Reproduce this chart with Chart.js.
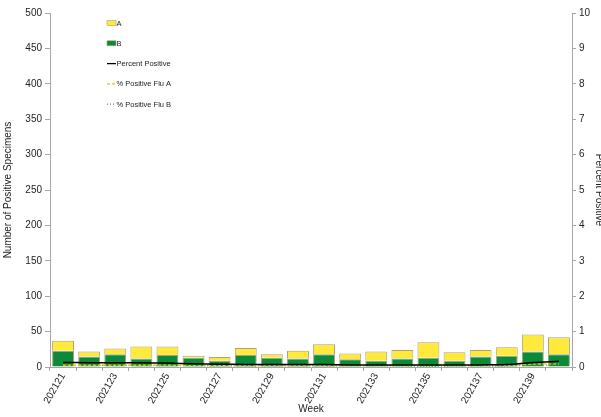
<!DOCTYPE html>
<html lang="en">
<head>
    <meta charset="UTF-8">
    <title>Flu Positive Specimens by Week</title>
    <script src="https://cdn.jsdelivr.net/npm/chart.js@4.4.0/dist/chart.umd.min.js"></script>
    <style>
        * { margin: 0; padding: 0; box-sizing: border-box; }
        body { background: #fff; width: 601px; height: 417px; overflow: hidden; }
        #wrap { position: relative; width: 601px; height: 417px; }
    </style>
</head>
<body>
    <div id="wrap">
        <canvas id="fluChart" width="601" height="417"></canvas>
    </div>

    <script>
        // data
        const weeks = ['202121','202122','202123','202124','202125','202126','202127','202128','202129','202130',
                       '202131','202132','202133','202134','202135','202136','202137','202138','202139','202140'];
        const fluA = [14, 7, 8, 17, 12, 3, 5, 10, 5, 11, 14, 8, 13, 12, 22, 12, 9, 12, 24, 24];
        const fluB = [23, 15, 18, 12, 17, 13, 9, 17, 13, 12, 18, 11, 9, 12, 13, 9, 15, 16, 22, 18];
        const pctPositive = [0.13, 0.12, 0.12, 0.12, 0.11, 0.09, 0.08, 0.07, 0.07, 0.07, 0.07, 0.06, 0.06, 0.06, 0.06, 0.06, 0.06, 0.07, 0.13, 0.16];
        const pctFluA = [0.05, 0.05, 0.05, 0.05, 0.05, 0.04, 0.04, 0.04, 0.04, 0.04, 0.04, 0.04, 0.04, 0.04, 0.05, 0.04, 0.04, 0.04, 0.08, 0.09];
        const pctFluB = [0.06, 0.05, 0.05, 0.04, 0.04, 0.04, 0.03, 0.03, 0.03, 0.03, 0.03, 0.03, 0.03, 0.03, 0.02, 0.03, 0.03, 0.03, 0.05, 0.06];

        const YELLOW = '#FFE93B';
        const GREEN = '#0B8A3A';
        const EDGE = '#A9A27C';
        const AXIS = '#A6A6A6';

        Chart.defaults.font.family = '"Liberation Sans", Arial, sans-serif';
        Chart.defaults.font.size = 10;
        Chart.defaults.color = '#222';

        // legend drawn inside the plot, like the original
        const legendItems = [
            { label: 'A', kind: 'box', color: YELLOW },
            { label: 'B', kind: 'box', color: GREEN },
            { label: 'Percent Positive', kind: 'line', color: '#000', dash: [] },
            { label: '% Positive Flu A', kind: 'line', color: '#E8C400', dash: [3, 2] },
            { label: '% Positive Flu B', kind: 'line', color: '#3FAE3F', dash: [1, 2] }
        ];
        const innerLegend = {
            id: 'innerLegend',
            afterDraw(chart) {
                const ctx = chart.ctx;
                ctx.save();
                ctx.font = '7.5px "Liberation Sans", Arial, sans-serif';
                ctx.textBaseline = 'middle';
                legendItems.forEach((it, i) => {
                    const y = 23 + i * 20.3;
                    if (it.kind === 'box') {
                        ctx.fillStyle = it.color;
                        ctx.fillRect(107, y - 2.5, 9, 5);
                        ctx.strokeStyle = EDGE;
                        ctx.lineWidth = 0.6;
                        ctx.strokeRect(107, y - 2.5, 9, 5);
                    } else {
                        ctx.strokeStyle = it.color;
                        ctx.lineWidth = 1.3;
                        ctx.setLineDash(it.dash);
                        ctx.beginPath();
                        ctx.moveTo(107, y);
                        ctx.lineTo(116, y);
                        ctx.stroke();
                        ctx.setLineDash([]);
                    }
                    ctx.fillStyle = '#222';
                    ctx.fillText(it.label, 116.5, y + 0.5);
                });
                ctx.restore();
            }
        };

        const ctx = document.getElementById('fluChart').getContext('2d');
        new Chart(ctx, {
            data: {
                labels: weeks,
                datasets: [
                    { type: 'line', label: 'Percent Positive', data: pctPositive, yAxisID: 'y1',
                      borderColor: '#000', borderWidth: 1.5, pointRadius: 0, tension: 0.3, order: 1 },
                    { type: 'line', label: '% Positive Flu A', data: pctFluA, yAxisID: 'y1',
                      borderColor: '#E8C400', borderWidth: 1.3, borderDash: [3, 2], pointRadius: 0, tension: 0.3, order: 1 },
                    { type: 'line', label: '% Positive Flu B', data: pctFluB, yAxisID: 'y1',
                      borderColor: '#3FAE3F', borderWidth: 1.3, borderDash: [1, 2], pointRadius: 0, tension: 0.3, order: 1 },
                    { type: 'bar', label: 'B', data: fluB, yAxisID: 'y', stack: 'flu',
                      backgroundColor: GREEN, borderColor: EDGE, borderWidth: 1, order: 2 },
                    { type: 'bar', label: 'A', data: fluA, yAxisID: 'y', stack: 'flu',
                      backgroundColor: YELLOW, borderColor: EDGE, borderWidth: 1, order: 2 }
                ]
            },
            options: {
                responsive: false,
                animation: false,
                layout: { padding: { top: 13, right: 0, left: 0, bottom: 0 } },
                datasets: { bar: { categoryPercentage: 1, barPercentage: 0.84 } },
                plugins: { legend: { display: false }, tooltip: { enabled: false } },
                scales: {
                    x: {
                        stacked: true,
                        grid: { display: true, drawOnChartArea: false, offset: true, color: AXIS, tickLength: 4 },
                        border: { color: AXIS },
                        ticks: {
                            autoSkip: false, minRotation: 60, maxRotation: 60, padding: 0,
                            callback: function(v, i) { return i % 2 === 0 ? this.getLabelForValue(v) : ''; }
                        },
                        title: { display: true, text: 'Week', padding: { top: 0, bottom: 2 } },
                        afterFit: s => { s.height = 50; }
                    },
                    y: {
                        stacked: true, position: 'left', min: 0, max: 500,
                        grid: { drawOnChartArea: false, color: AXIS, tickLength: 5 },
                        border: { color: AXIS },
                        ticks: { stepSize: 50, padding: 3 },
                        title: { display: true, text: 'Number of Positive Specimens', padding: { top: 2, bottom: 0 } },
                        afterFit: s => { s.width = 50; }
                    },
                    y1: {
                        position: 'right', min: 0, max: 10,
                        grid: { drawOnChartArea: false, color: AXIS, tickLength: 4 },
                        border: { color: AXIS },
                        ticks: { stepSize: 1, padding: 3 },
                        title: { display: true, text: 'Percent Positive', padding: { top: -4, bottom: 0 } },
                        afterFit: s => { s.width = 29; }
                    }
                }
            },
            plugins: [innerLegend]
        });
    </script>
</body>
</html>
